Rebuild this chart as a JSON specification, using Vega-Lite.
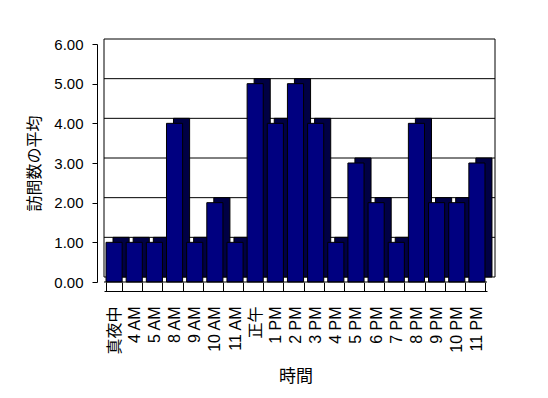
{
  "$schema": "https://vega.github.io/schema/vega-lite/v6.json",
  "width": 383,
  "height": 238,
  "autosize": {"type": "none"},
  "padding": {"left": 104, "top": 44, "right": 61, "bottom": 116},
  "background": "white",
  "config": {
    "view": {"stroke": null},
    "font": "Liberation Sans, Noto Sans CJK JP",
    "axis": {"labelColor": "black", "titleColor": "black", "titleFontWeight": "normal", "domainColor": "black", "tickColor": "black", "grid": false, "labelOverlap": false, "labelFont": "Liberation Sans, Noto Sans CJK JP", "titleFont": "Liberation Sans, Noto Sans CJK JP"},
    "axisX": {"labelAngle": -90, "labelFontSize": 16, "titleFontSize": 17, "offset": 9, "tickBand": "extent", "tickSize": -9, "labelPadding": 24, "titlePadding": 14},
    "axisY": {"labelFontSize": 15, "titleFontSize": 16, "offset": 7, "tickSize": 5, "labelPadding": 9, "titlePadding": 11}
  },
  "datasets": {
    "visits": [
      {"hour": "真夜中", "value": 1},
      {"hour": "4 AM", "value": 1},
      {"hour": "5 AM", "value": 1},
      {"hour": "8 AM", "value": 4},
      {"hour": "9 AM", "value": 1},
      {"hour": "10 AM", "value": 2},
      {"hour": "11 AM", "value": 1},
      {"hour": "正午", "value": 5},
      {"hour": "1 PM", "value": 4},
      {"hour": "2 PM", "value": 5},
      {"hour": "3 PM", "value": 4},
      {"hour": "4 PM", "value": 1},
      {"hour": "5 PM", "value": 3},
      {"hour": "6 PM", "value": 2},
      {"hour": "7 PM", "value": 1},
      {"hour": "8 PM", "value": 4},
      {"hour": "9 PM", "value": 2},
      {"hour": "10 PM", "value": 2},
      {"hour": "11 PM", "value": 3}
    ],
    "wall": [{"lo": 0, "hi": 6}],
    "grid": [{"v": 1}, {"v": 2}, {"v": 3}, {"v": 4}, {"v": 5}],
    "floor": [{"v": 0}]
  },
  "layer": [
    {
      "data": {"name": "wall"},
      "mark": {"type": "rect", "fill": "white", "stroke": "black", "strokeWidth": 1, "xOffset": 8, "x2Offset": 8, "yOffset": -5, "y2Offset": -5},
      "encoding": {
        "y": {"field": "lo", "type": "quantitative", "scale": {"domain": [0, 6], "nice": false},
          "axis": {"title": "訪問数の平均", "values": [0, 1, 2, 3, 4, 5, 6], "format": ".2f"}},
        "y2": {"field": "hi"}
      }
    },
    {
      "data": {"name": "grid"},
      "mark": {"type": "rule", "color": "black", "strokeWidth": 1, "xOffset": 8, "x2Offset": 8, "yOffset": -5},
      "encoding": {
        "y": {"field": "v", "type": "quantitative",
          "axis": {"title": "訪問数の平均", "values": [0, 1, 2, 3, 4, 5, 6], "format": ".2f"}}
      }
    },
    {
      "data": {"name": "visits"},
      "mark": {"type": "bar", "fill": "#000044", "stroke": "black", "strokeWidth": 1, "xOffset": 7, "x2Offset": 7, "yOffset": -5, "y2Offset": -5},
      "encoding": {
        "x": {"field": "hour", "type": "nominal", "sort": null, "scale": {"paddingInner": 0.2, "paddingOuter": 0.1},
          "axis": {"title": "時間"}},
        "y": {"field": "value", "type": "quantitative",
          "axis": {"title": "訪問数の平均", "values": [0, 1, 2, 3, 4, 5, 6], "format": ".2f"}}
      }
    },
    {
      "data": {"name": "visits"},
      "mark": {"type": "bar", "fill": "#000080", "stroke": "black", "strokeWidth": 1},
      "encoding": {
        "x": {"field": "hour", "type": "nominal", "sort": null, "axis": {"title": "時間"}},
        "y": {"field": "value", "type": "quantitative",
          "axis": {"title": "訪問数の平均", "values": [0, 1, 2, 3, 4, 5, 6], "format": ".2f"}}
      }
    },
    {
      "data": {"name": "floor"},
      "mark": {"type": "rule", "color": "black", "strokeWidth": 1},
      "encoding": {
        "y": {"field": "v", "type": "quantitative",
          "axis": {"title": "訪問数の平均", "values": [0, 1, 2, 3, 4, 5, 6], "format": ".2f"}}
      }
    }
  ]
}
